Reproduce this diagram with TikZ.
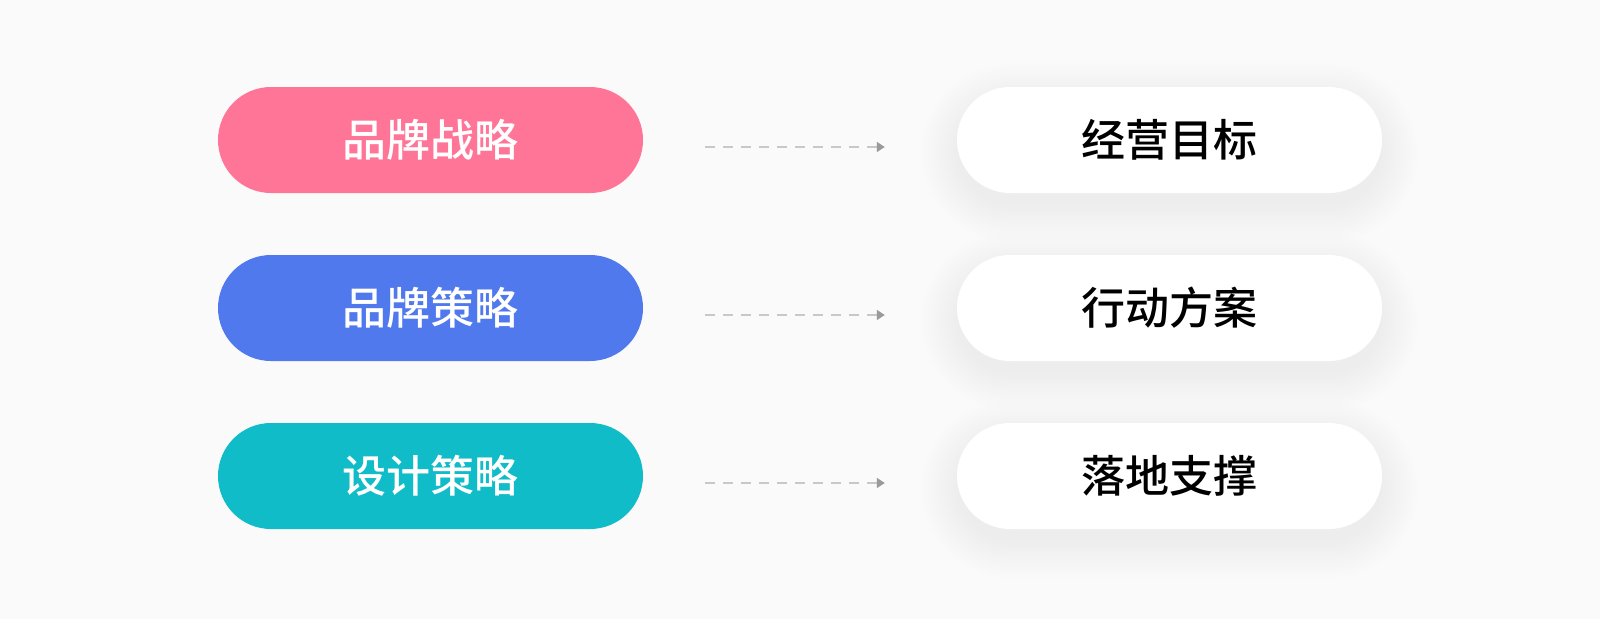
\documentclass[tikz,border=0pt]{standalone}
\usepackage{fontspec}
\newfontfamily\cjk{Noto Sans CJK SC Medium}
\usetikzlibrary{arrows.meta}
\definecolor{fondo}{HTML}{FAFAFA}
\definecolor{rosa}{HTML}{FF7598}
\definecolor{azul}{HTML}{4F79EC}
\definecolor{turquesa}{HTML}{10BCC7}
\definecolor{guion}{HTML}{C8C8C8}
\definecolor{punta}{HTML}{9A9A9A}
\begin{document}
\begin{tikzpicture}[x=1pt, y=-1pt]

	\tikzstyle{pill}=[rectangle, rounded corners=53pt, minimum width=425pt, minimum height=106pt, inner sep=0pt, font=\cjk\fontsize{44}{52}\selectfont]
	\tikzstyle{relleno}=[pill, text=white]
	\tikzstyle{blanco}=[pill, fill=white, text=black]
	\tikzstyle{sombra}=[fill=black, opacity=0.005]
	\tikzstyle{flecha}=[draw=guion, line width=1.7pt, dash pattern=on 10pt off 8pt, -{Triangle[length=8pt, width=10pt, color=punta]}, shorten <=62pt, shorten >=72pt]

	\useasboundingbox[fill=fondo] (0, 0) rectangle (1600, 619);

	\coordinate (p_1_1) at (430.5, 140); % COLUMNA IZQUIERDA
	\coordinate (p_1_2) at (430.5, 308); % COLUMNA IZQUIERDA
	\coordinate (p_1_3) at (430.5, 476); % COLUMNA IZQUIERDA
	\coordinate (p_2_1) at (1169.5, 140); % COLUMNA DERECHA
	\coordinate (p_2_2) at (1169.5, 308); % COLUMNA DERECHA
	\coordinate (p_2_3) at (1169.5, 476); % COLUMNA DERECHA

	%%%%%%%% SOMBRAS %%%%%%%%
	\foreach \c in {p_2_1, p_2_2, p_2_3}
		\foreach \r in {0, 3, ..., 36}
			\fill[sombra, rounded corners=53pt+\r pt] ([shift={(-212.5-\r, -40-\r)}]\c) rectangle ([shift={(212.5+\r, 66+\r)}]\c);

	\node[relleno, fill=rosa] (p_1_1) at (p_1_1) {品牌战略}; % COLUMNA IZQUIERDA
	\node[relleno, fill=azul] (p_1_2) at (p_1_2) {品牌策略}; % COLUMNA IZQUIERDA
	\node[relleno, fill=turquesa] (p_1_3) at (p_1_3) {设计策略}; % COLUMNA IZQUIERDA
	\node[blanco] (p_2_1) at (p_2_1) {经营目标}; % COLUMNA DERECHA
	\node[blanco] (p_2_2) at (p_2_2) {行动方案}; % COLUMNA DERECHA
	\node[blanco] (p_2_3) at (p_2_3) {落地支撑}; % COLUMNA DERECHA

	%%%%%%%%%%%%%%%%%%%%%%%%%%%%%%%%%
	%%%%%%%% FLECHAS %%%%%%%%
	\draw[flecha] ([yshift=-7pt]p_1_1.east) -- ([yshift=-7pt]p_2_1.west);
	\draw[flecha] ([yshift=-7pt]p_1_2.east) -- ([yshift=-7pt]p_2_2.west);
	\draw[flecha] ([yshift=-7pt]p_1_3.east) -- ([yshift=-7pt]p_2_3.west);
	%%%%%%%%%%%%%%%%%%%%%%%%%%%%%%%%%
\end{tikzpicture}
\end{document}
